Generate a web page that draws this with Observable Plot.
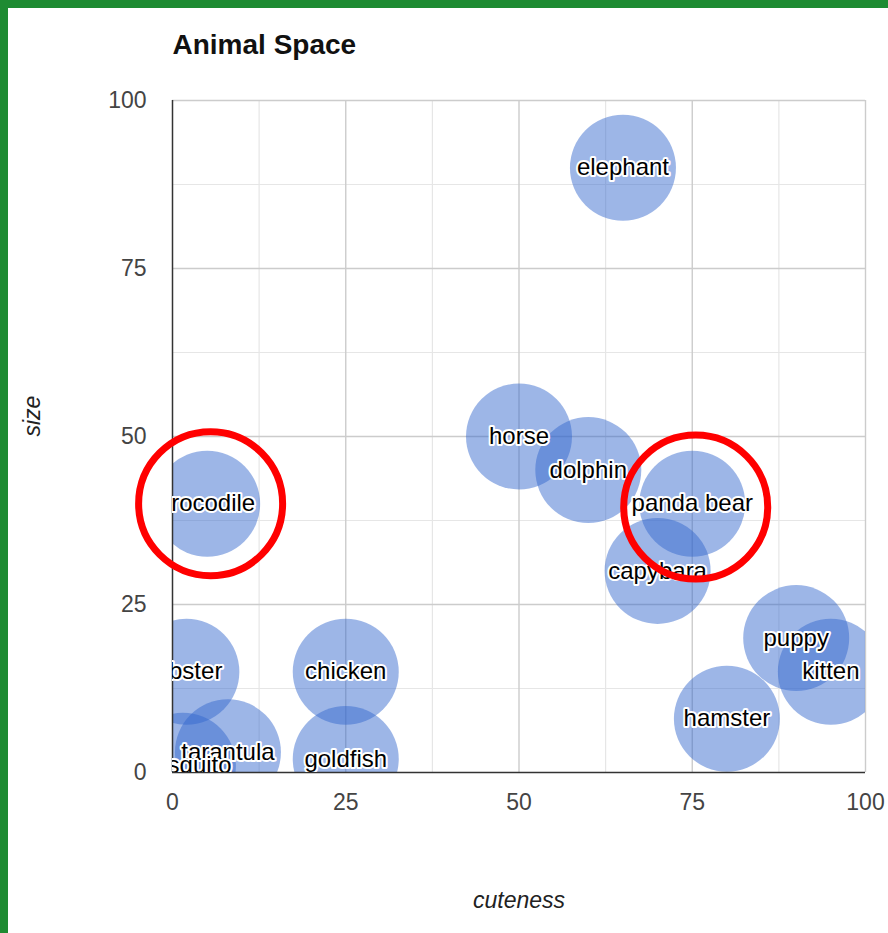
<!DOCTYPE html>
<html>
<head>
<meta charset="utf-8">
<script src="https://cdn.jsdelivr.net/npm/d3@7"></script>
<script src="https://cdn.jsdelivr.net/npm/@observablehq/plot@0.6"></script>
<style>
  html, body { margin: 0; padding: 0; background: #fff; }
  #page { position: relative; width: 888px; height: 933px; overflow: hidden; background: #fff; }
  #page .edge-top { position: absolute; left: 0; top: 0; width: 888px; height: 8px; background: #1e8b32; }
  #page .edge-left { position: absolute; left: 0; top: 0; width: 8px; height: 933px; background: #1e8b32; }
  #chart { position: absolute; left: 0; top: 0; }
</style>
</head>
<body>
<div id="page">
  <div id="chart"></div>
  <div class="edge-top"></div>
  <div class="edge-left"></div>
</div>
<script>
// Animals placed by how cute and how big they are
const animals  = ["elephant", "horse", "dolphin", "panda bear", "capybara", "crocodile", "lobster", "chicken", "goldfish", "tarantula", "mosquito", "puppy", "kitten", "hamster"];
const cuteness = [65, 50, 60, 75, 70, 5, 2, 25, 25, 8, 1.5, 90, 95, 80];
const size     = [90, 50, 45, 40, 30, 40, 15, 15, 2, 3, 1, 20, 15, 8];

// Hand-drawn red rings around two of the animals
const ringNames    = ["crocodile", "panda bear"];
const ringCuteness = [5.5, 75.5];
const ringSize     = [40, 39.5];

const axisTicks  = [0, 25, 50, 75, 100];
const majorGrid  = [25, 50, 75, 100];
const minorGrid  = [12.5, 37.5, 62.5, 87.5];

const chartTitle = "Animal Space";
const xTitle = "cuteness";
const yTitle = "size";

const points = animals.map((name, i) => ({name, cuteness: cuteness[i], size: size[i]}));
const rings = ringNames.map((name, i) => ({name, cuteness: ringCuteness[i], size: ringSize[i]}));

const font = "'Liberation Sans', Arial, Helvetica, sans-serif";

const chart = Plot.plot({
  width: 888,
  height: 933,
  marginLeft: 172,
  marginRight: 23,
  marginTop: 100,
  marginBottom: 161,
  style: {fontFamily: font, fontSize: "23px", color: "#444", background: "transparent", overflow: "visible"},
  x: {domain: [0, 100], ticks: axisTicks, tickSize: 0, tickPadding: 21, label: null},
  y: {domain: [0, 100], ticks: axisTicks, tickSize: 0, tickPadding: 26, label: null},
  marks: [
    // light minor grid, slightly darker major grid
    Plot.ruleX(minorGrid, {stroke: "#e6e6e6", strokeWidth: 1.2}),
    Plot.ruleY(minorGrid, {stroke: "#e6e6e6", strokeWidth: 1.2}),
    Plot.ruleX(majorGrid, {stroke: "#cccccc", strokeWidth: 1.4}),
    Plot.ruleY(majorGrid, {stroke: "#cccccc", strokeWidth: 1.4}),
    // bubbles, clipped to the plotting area
    Plot.dot(points, {x: "cuteness", y: "size", r: 53, fill: "#3366cc", fillOpacity: 0.48, stroke: "none", clip: true}),
    // baseline axes
    Plot.ruleX([0], {stroke: "#333", strokeWidth: 1.5}),
    Plot.ruleY([0], {stroke: "#333", strokeWidth: 1.5}),
    // bubble names with a white halo
    Plot.text(points, {x: "cuteness", y: "size", text: "name", fill: "#000", stroke: "white", strokeWidth: 4, fontSize: 24, clip: true}),
    // red rings
    Plot.dot(rings, {x: "cuteness", y: "size", r: 72, stroke: "#ff0000", strokeWidth: 7, fill: "none"}),
    // titles
    Plot.text([chartTitle], {frameAnchor: "top-left", text: d => d, dy: -55, lineAnchor: "middle", textAnchor: "start", fontSize: 28, fontWeight: "bold", fill: "#111"}),
    Plot.text([yTitle], {frameAnchor: "left", text: d => d, dx: -140, rotate: -90, lineAnchor: "middle", fontSize: 23, fontStyle: "italic", fill: "#222"}),
    Plot.text([xTitle], {frameAnchor: "bottom", text: d => d, dy: 128, lineAnchor: "middle", fontSize: 23, fontStyle: "italic", fill: "#222"})
  ]
});

document.getElementById("chart").appendChild(chart);
</script>
</body>
</html>
